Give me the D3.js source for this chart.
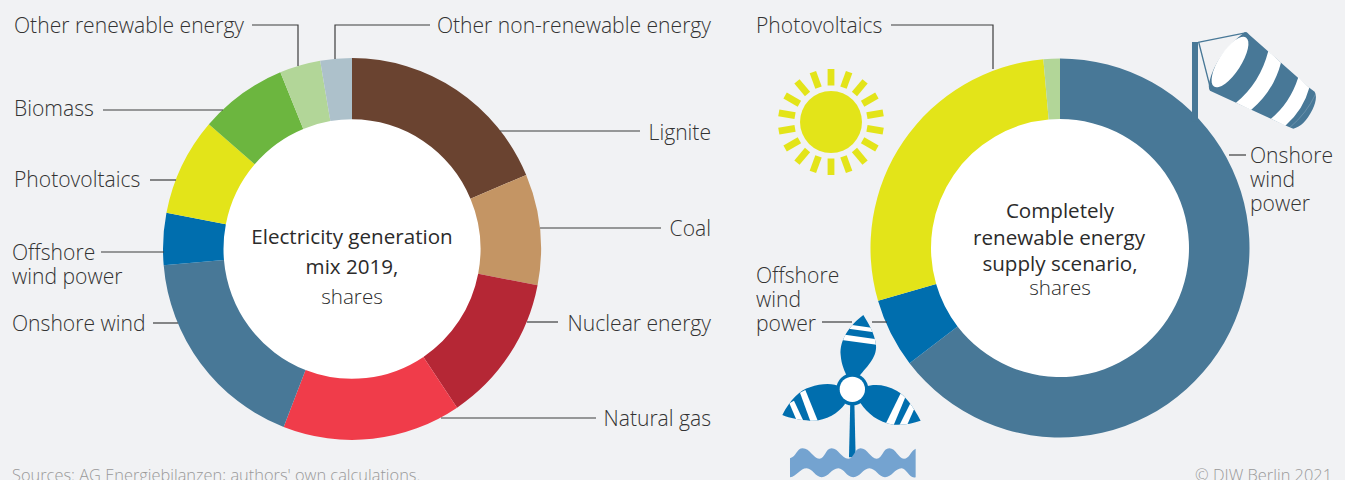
<!DOCTYPE html>
<html>
<head>
<meta charset="utf-8">
<script src="https://cdn.jsdelivr.net/npm/d3@7"></script>
<style>
  html, body { margin: 0; padding: 0; background: #f1f2f4; overflow: hidden; }
  text { font-family: "Open Sans", sans-serif; }
</style>
</head>
<body>
<svg id="drawing_region"></svg>
<script>
// shares in percent, clockwise from 12 o'clock
const mix_categories = ['Lignite', 'Coal', 'Nuclear energy', 'Natural gas', 'Onshore wind',
    'Offshore wind power', 'Photovoltaics', 'Biomass', 'Other renewable energy', 'Other non-renewable energy'];
const mix_values = [18.7, 9.4, 12.6, 15.3, 17.8, 4.4, 8.3, 7.5, 3.5, 2.7];
const mix_colors = ['#6a4330', '#c49564', '#b52735', '#f03c4a', '#487897',
    '#006eae', '#e3e419', '#6cb63f', '#b2d698', '#adc1cb'];

const scenario_categories = ['Onshore wind power', 'Offshore wind power', 'Photovoltaics', 'Other renewable energy'];
const scenario_values = [64.6, 5.9, 28.1, 1.4];
const scenario_colors = ['#487897', '#006eae', '#e3e419', '#b2d698'];

const width = 1345, height = 480;
const font_size = 21.1;

const svg = d3.select('#drawing_region')
    .attr('width', width)
    .attr('height', height)
    .style('display', 'block');

function donut(cx, cy, inner, outer, stretch, categories, values, colors) {
    const pie = d3.pie().sort(null).value(d => d.value);
    const arc = d3.arc().innerRadius(inner).outerRadius(outer);
    const rows = categories.map((c, i) => ({ name: c, value: values[i], color: colors[i] }));

    const g = svg.append('g').attr('transform', `translate(${cx}, ${cy}) scale(1, ${stretch})`);
    g.append('circle').attr('r', inner + 1).attr('fill', '#fff');
    g.selectAll('path')
        .data(pie(rows))
        .join('path')
        .attr('d', arc)
        .attr('fill', d => d.data.color);
}

// the left ring is a little taller than wide in the reference
donut(352, 249, 128.5, 189, 1.01, mix_categories, mix_values, mix_colors);
donut(1060, 248, 129, 189.5, 1, scenario_categories, scenario_values, scenario_colors);

// leader lines
const leaders = [
    [[252, 25], [298, 25], [298, 66]],
    [[430, 25], [335, 25], [335, 59]],
    [[640, 131], [500, 131]],
    [[661, 228], [540, 228]],
    [[558, 322], [527, 322]],
    [[596, 418], [441, 418]],
    [[103, 110], [223, 110]],
    [[150, 180], [176, 180]],
    [[101, 252], [164, 252]],
    [[153, 323], [178, 323]],
    [[891, 25], [993, 25], [993, 69]],
    [[1246, 155], [1229, 155]],
    [[822, 322], [852, 322]],
    [[872, 322], [887, 322]]
];
const line = d3.line();
svg.append('g').selectAll('path')
    .data(leaders)
    .join('path')
    .attr('d', line)
    .attr('fill', 'none')
    .attr('stroke', '#3c3c3c')
    .attr('stroke-width', 1.2);

// labels: [text, x, baseline y, anchor]
const labels = [
    ['Other renewable energy', 14, 32.5, 'start'],
    ['Other non-renewable energy', 711, 32.5, 'end'],
    ['Lignite', 711, 139.5, 'end'],
    ['Coal', 711, 235.5, 'end'],
    ['Nuclear energy', 711, 330.5, 'end'],
    ['Natural gas', 711, 425.5, 'end'],
    ['Biomass', 14, 115.5, 'start'],
    ['Photovoltaics', 14, 186.5, 'start'],
    ['Offshore', 12, 259.5, 'start'],
    ['wind power', 12, 283.5, 'start'],
    ['Onshore wind', 12, 330.5, 'start'],
    ['Photovoltaics', 756, 32.5, 'start'],
    ['Onshore', 1250, 162.5, 'start'],
    ['wind', 1250, 186.5, 'start'],
    ['power', 1250, 210.5, 'start'],
    ['Offshore', 756, 282.5, 'start'],
    ['wind', 756, 306.5, 'start'],
    ['power', 756, 330.5, 'start']
];
svg.append('g').selectAll('text')
    .data(labels)
    .join('text')
    .attr('x', d => d[1])
    .attr('y', d => d[2])
    .attr('text-anchor', d => d[3])
    .attr('font-size', font_size)
    .attr('font-weight', 300)
    .attr('fill', '#333')
    .text(d => d[0]);

// texts in the middle of the rings
const centre_labels = [
    ['Electricity generation', 352, 244, 400],
    ['mix 2019,', 352, 274, 400],
    ['shares', 352, 304, 300],
    ['Completely', 1060, 218, 400],
    ['renewable energy', 1059, 245, 400],
    ['supply scenario,', 1060, 271, 400],
    ['shares', 1060, 295, 300]
];
svg.append('g').selectAll('text')
    .data(centre_labels)
    .join('text')
    .attr('x', d => d[1])
    .attr('y', d => d[2])
    .attr('text-anchor', 'middle')
    .attr('font-size', 20.6)
    .attr('font-weight', d => d[3])
    .attr('fill', '#2b2b2b')
    .text(d => d[0]);

// footer, the picture cuts it off at the bottom edge
svg.append('text').attr('x', 12).attr('y', 481)
    .attr('font-size', 16.4).attr('font-weight', 300).attr('fill', '#999')
    .text("Sources: AG Energiebilanzen; authors' own calculations.");
svg.append('text').attr('x', 1332).attr('y', 481).attr('text-anchor', 'end')
    .attr('font-size', 16.4).attr('font-weight', 300).attr('fill', '#999')
    .text('© DIW Berlin 2021');

// sun icon
const sun = svg.append('g').attr('transform', 'translate(831, 122)');
sun.append('circle').attr('r', 31).attr('fill', '#e3e419');
sun.selectAll('rect')
    .data(d3.range(18))
    .join('rect')
    .attr('x', -3.4).attr('y', -53)
    .attr('width', 6.8).attr('height', 16.5)
    .attr('fill', '#e3e419')
    .attr('transform', d => `rotate(${d * 20})`);

// windsock icon, drawn in the coordinates of a 3x crop
const sock = svg.append('g').attr('transform', 'translate(1150, 20) scale(0.3333)');
const sock_blue = '#487897';
sock.append('rect').attr('x', 126).attr('y', 66).attr('width', 18).attr('height', 240).attr('fill', sock_blue);
sock.append('path')
    .attr('d', 'M144,67 L290,38 M146,66 L180,200')
    .attr('stroke', sock_blue).attr('stroke-width', 4).attr('fill', 'none');
sock.append('path')
    .attr('d', 'M284,37 Q292,36 298,44 L478,203 L494,215 Q504,232 488,268 Q462,320 430,326 L410,318 L180,212 Q174,205 178,185 Q200,100 284,37 Z')
    .attr('fill', sock_blue);
sock.append('ellipse')
    .attr('cx', 240).attr('cy', 126).attr('rx', 88).attr('ry', 33)
    .attr('transform', 'rotate(-57 240 126)')
    .attr('fill', '#fff');
sock.append('path')
    .attr('d', 'M355,93 L393,128 Q370,215 303,270 L258,248 Q330,190 355,93 Z')
    .attr('fill', '#fff');
sock.append('path')
    .attr('d', 'M445,172 L478,203 Q460,270 406,317 L363,296 Q420,250 445,172 Z')
    .attr('fill', '#fff');
sock.append('path')
    .attr('d', 'M497,222 Q470,280 420,322')
    .attr('stroke', '#a9c0cf').attr('stroke-width', 1).attr('fill', 'none');

// offshore turbine icon, same crop coordinates
const turbine = svg.append('g').attr('transform', 'translate(750, 300) scale(0.3333)');
const turbine_blue = '#006eae';
const blades = [
    'M340,45 C300,75 268,120 272,165 C274,195 285,215 292,232 L325,232 C345,205 382,175 378,135 C374,100 355,70 340,45 Z',
    'M97,345 C120,300 150,270 180,262 C215,250 250,248 272,262 L285,312 C265,340 225,365 180,362 C150,360 120,355 97,345 Z',
    'M512,362 C490,320 465,285 440,272 C410,255 375,250 345,260 L332,310 C352,340 385,368 430,374 C460,376 490,370 512,362 Z'
];
const blade_stripes = [
    ['M285,72 L370,84 L372,97 L285,85 Z', 'M275,103 L380,118 L380,134 L275,120 Z'],
    ['M118,310 L132,302 L160,362 L142,366 Z', 'M150,278 L166,270 L204,364 L182,366 Z'],
    ['M452,280 L466,292 L430,378 L408,370 Z', 'M482,308 L494,324 L470,378 L448,376 Z']
];
turbine.append('path')
    .attr('d', 'M297,472 L301,300 L313,300 L317,472 Z')
    .attr('fill', turbine_blue);
blades.forEach((b, i) => {
    turbine.append('clipPath').attr('id', `blade${i}`).append('path').attr('d', b);
    turbine.append('path').attr('d', b).attr('fill', turbine_blue);
    turbine.selectAll(`.stripe${i}`)
        .data(blade_stripes[i])
        .join('path')
        .attr('class', `stripe${i}`)
        .attr('d', d => d)
        .attr('fill', '#fff')
        .attr('clip-path', `url(#blade${i})`);
});
turbine.append('circle').attr('cx', 307).attr('cy', 268).attr('r', 48).attr('fill', turbine_blue);
turbine.append('circle').attr('cx', 307).attr('cy', 268).attr('r', 38).attr('fill', '#fff');
turbine.append('path')
    .attr('d', 'M120,475 C140,470 140,445 158,445 C180,445 190,476 208,476 C226,476 226,445 245,445 C265,445 275,476 295,476 C313,476 313,445 332,445 C352,445 362,476 380,476 C398,476 398,445 418,445 C438,445 445,476 462,476 C478,476 480,455 497,446 L497,532 C478,538 470,505 455,505 C435,505 425,532 405,532 C387,532 377,505 358,505 C340,505 330,532 310,532 C290,532 282,505 265,505 C245,505 235,532 215,532 C197,532 187,505 170,505 C150,505 140,530 120,532 Z')
    .attr('fill', '#74a3d0');
</script>
</body>
</html>
